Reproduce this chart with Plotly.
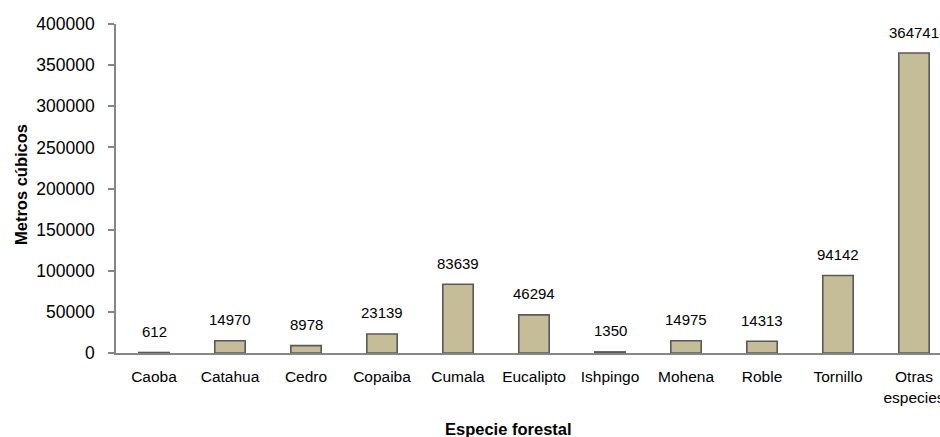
import plotly.graph_objects as go

categories = ["Caoba", "Catahua", "Cedro", "Copaiba", "Cumala", "Eucalipto",
              "Ishpingo", "Mohena", "Roble", "Tornillo", "Otras<br>especies"]
values = [612, 14970, 8978, 23139, 83639, 46294, 1350, 14975, 14313, 94142, 364741]
y_ticks = [0, 50000, 100000, 150000, 200000, 250000, 300000, 350000, 400000]

FONT = "Liberation Sans, Arial, sans-serif"
W, H = 940, 437
L, R, T, B = 116, 0, 24, 84
pw, ph = W - L - R, H - T - B

fig = go.Figure()
fig.add_trace(go.Bar(
    x=list(range(len(categories))), y=values, width=0.4,
    marker=dict(color="#C4BD97", line=dict(color="#595959", width=1.6)),
    hoverinfo="x+y",
))

for i, v in enumerate(values):
    fig.add_annotation(x=i, y=v, text=str(v), showarrow=False, yanchor="middle",
                       yshift=21, font=dict(family=FONT, size=15, color="#000000"))

fig.add_annotation(xref="paper", yref="paper", x=(21 - L) / pw, y=(H - B - 185) / ph,
                   text="<b>Metros cúbicos</b>", textangle=-90, showarrow=False,
                   xanchor="center", yanchor="middle",
                   font=dict(family=FONT, size=16.5, color="#000000"))
fig.add_annotation(xref="paper", yref="paper", x=(508 - L) / pw, y=(H - B - 429) / ph,
                   text="<b>Especie forestal</b>", showarrow=False,
                   xanchor="center", yanchor="middle",
                   font=dict(family=FONT, size=16.5, color="#000000"))

fig.update_layout(
    width=W, height=H,
    margin=dict(l=L, r=R, t=T, b=B, pad=0, autoexpand=False),
    plot_bgcolor="white", paper_bgcolor="white",
    showlegend=False,
    font=dict(family=FONT, color="#000000"),
    xaxis=dict(
        range=[-0.5, (W - L) / 76 - 0.5], automargin=False,
        tickmode="array", tickvals=list(range(len(categories))), ticktext=categories,
        showline=True, linecolor="#868686", linewidth=1.6,
        showgrid=False, zeroline=False, ticks="",
        ticklabelstandoff=9, ticklabeloverflow="allow",
        tickfont=dict(family=FONT, size=15.5, color="#000000"),
    ),
    yaxis=dict(
        range=[0, 400000], automargin=False, tickmode="array", tickvals=y_ticks,
        ticktext=[str(t) for t in y_ticks],
        showline=True, linecolor="#868686", linewidth=1.6,
        ticks="outside", ticklen=6, tickcolor="#868686", tickwidth=1.6,
        showgrid=False, zeroline=False,
        ticklabelstandoff=10,
        tickfont=dict(family=FONT, size=17.5, color="#000000"),
    ),
)

fig.write_html("out.html")
